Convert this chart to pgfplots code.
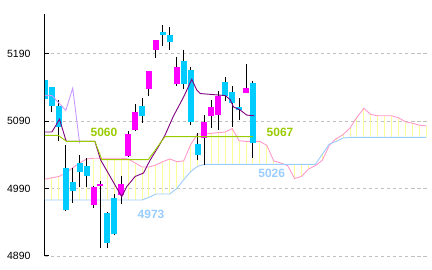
\documentclass[border=0pt]{standalone}
\usepackage{fontspec}
\setmainfont{Liberation Sans}
\usepackage{pgfplots}
\usepackage{pgfplotstable}
\pgfplotsset{compat=1.18}
\definecolor{upc}{HTML}{FF00FF}
\definecolor{dnc}{HTML}{00CCFF}
\definecolor{kijun}{HTML}{99CC00}
\definecolor{tenkan}{HTML}{800080}
\definecolor{chikou}{HTML}{CC99FF}
\definecolor{spana}{HTML}{FF99CC}
\definecolor{spanb}{HTML}{99CCFF}
\definecolor{kumo}{HTML}{FFFF99}
\definecolor{gridgray}{HTML}{C0C0C0}

% bullish candles (magenta)
\pgfplotstableread{
x open high low close
7 4965 4994 4961 4993
8 4994 5001 4902 4997
11 4981 5008 4967 4997
12 5038 5076 5037 5071
13 5077 5116 5075 5104
15 5138 5164 5128 5164
16 5196 5210 5184 5210
19 5145 5185 5142 5171
23 5065 5099 5025 5089
24 5098 5122 5080 5111
25 5099 5135 5077 5128
29 5132 5175 5132 5139
}\upcandles

% bearish candles (cyan)
\pgfplotstableread{
x open high low close
0 5151 5152 5122 5123
1 5140 5141 5103 5112
2 5113 5122 5060 5081
3 5021 5055 4957 4958
4 5000 5021 4969 4987
5 5028 5040 4992 5014
6 5024 5035 4992 5009
9 4954 4955 4902 4910
10 4976 4982 4921 4922
14 5112 5125 5088 5098
17 5222 5232 5201 5218
18 5218 5229 5196 5208
20 5180 5196 5137 5145
21 5166 5171 5085 5089
22 5056 5073 5032 5040
26 5148 5155 5120 5128
27 5134 5142 5081 5117
28 5111 5124 5092 5106
30 5146 5150 5036 5057
}\dncandles

% leading spans A and B
\pgfplotstableread{
i a b
0 5004 4973
1 5006 4973
2 5008 4973
3 5013 4973
4 5021 4973
5 5028 4973
6 5034 4973
7 5035 4973
8 5035 4973
9 5035 4973
10 5035 4973
11 5035 4973
12 5034 4973
13 5028 4973
14 5022 4973
15 5022 4977
16 5025 4982
17 5030 4982
18 5034 4982
19 5030 4990
20 5031 5003
21 5055 5015
22 5071 5023
23 5071 5026
24 5072 5026
25 5073 5026
26 5074 5026
27 5079 5026
28 5061 5026
29 5060 5026
30 5060 5026
31 5060 5026
32 5054 5026
33 5031 5026
34 5028 5026
35 5024 5026
36 5005 5026
37 5008 5026
38 5019 5026
39 5024 5026
40 5032 5041
41 5054 5056
42 5064 5060
43 5070 5065
44 5080 5066
45 5096 5066
46 5109 5066
47 5100 5066
48 5098 5066
49 5098 5066
50 5098 5066
51 5095 5066
52 5089 5066
53 5087 5066
54 5084 5066
55 5083 5066
}\kumotab

\begin{document}
\begin{tikzpicture}
\begin{axis}[
  at={(0,0)}, anchor=south west,
  scale only axis, width=382pt, height=242pt,
  xmin=0, xmax=55.1, ymin=4890, ymax=5249,
  axis x line=none, axis y line*=left,
  axis line style={black, line width=1pt},
  ytick={4890,4990,5090,5190},
  yticklabel style={font=\fontsize{10.5}{12}\selectfont, xshift=-11pt},
  /pgf/number format/.cd, 1000 sep={}, assume math mode=true, /pgfplots/.cd,
  tick align=inside, major tick length=4pt,
  tick style={black, line width=1pt},
  ymajorgrids,
  grid style={gridgray, line width=0.9pt, dash pattern=on 3.5pt off 2.5pt},
  clip=true,
]
% cloud hatching
\addplot[draw=none, mark=none, forget plot,
  error bars/.cd, y dir=plus, y explicit, error mark=none,
  error bar style={draw=kumo, line width=1pt}]
  table[x=i, y=b, y error plus expr=\thisrow{a}-\thisrow{b}] {\kumotab};
\addplot[spana, line width=0.9pt, mark=none] table[x=i, y=a] {\kumotab};
\addplot[spanb, line width=0.9pt, mark=none] table[x=i, y=b] {\kumotab};

% wicks
\addplot[draw=none, mark=none, forget plot,
  error bars/.cd, y dir=plus, y explicit, error mark=none,
  error bar style={draw=black, line width=1pt}]
  table[x=x, y=low, y error plus expr=\thisrow{high}-\thisrow{low}] {\upcandles};
\addplot[draw=none, mark=none, forget plot,
  error bars/.cd, y dir=plus, y explicit, error mark=none,
  error bar style={draw=black, line width=1pt}]
  table[x=x, y=low, y error plus expr=\thisrow{high}-\thisrow{low}] {\dncandles};
% bodies
\addplot[draw=none, mark=none, forget plot,
  error bars/.cd, y dir=plus, y explicit, error mark=none,
  error bar style={draw=upc, line width=6pt}]
  table[x=x, y=open, y error plus expr=\thisrow{close}-\thisrow{open}] {\upcandles};
\addplot[draw=none, mark=none, forget plot,
  error bars/.cd, y dir=plus, y explicit, error mark=none,
  error bar style={draw=dnc, line width=6pt}]
  table[x=x, y=close, y error plus expr=\thisrow{open}-\thisrow{close}] {\dncandles};

% lagging span
\addplot[chikou, line width=0.9pt, mark=none] coordinates {
 (0,5128) (1,5128) (2,5117) (3,5106) (4,5139) (5,5057)};
% conversion line
\addplot[tenkan, line width=0.9pt, mark=none] coordinates {
 (0,5074) (1,5074) (2.1,5093) (3,5062) (3.1,5060) (7.2,5060) (8.0,5033)
 (11.06,4978) (11.8,4993) (13,5008) (14.2,5013) (15.15,5032) (16.35,5052)
 (17.3,5069) (18.5,5097) (20,5126) (21.17,5152) (21.9,5136) (22.4,5131)
 (26,5128) (26.7,5122) (27.2,5111) (28.1,5107) (29.1,5099) (30.2,5098)};
% base line
\addplot[kijun, line width=0.9pt, mark=none] coordinates {
 (0,5069) (1.9,5069) (3.1,5060) (7.2,5060) (8.2,5033) (14.9,5033)
 (17.3,5067) (30,5067)};

\node[text=kijun, font=\fontsize{12}{14}\bfseries] at (axis cs:8.5,5074) {5060};
\node[text=kijun, font=\fontsize{12}{14}\bfseries] at (axis cs:33.9,5073.5) {5067};
\node[text=spanb, font=\fontsize{12}{14}\bfseries] at (axis cs:15.3,4952) {4973};
\node[text=spanb, font=\fontsize{12}{14}\bfseries] at (axis cs:32.7,5013) {5026};
\end{axis}
\pgfresetboundingbox
\path[use as bounding box] (-45pt,-14pt) rectangle (387pt,256pt);
\end{tikzpicture}
\end{document}
